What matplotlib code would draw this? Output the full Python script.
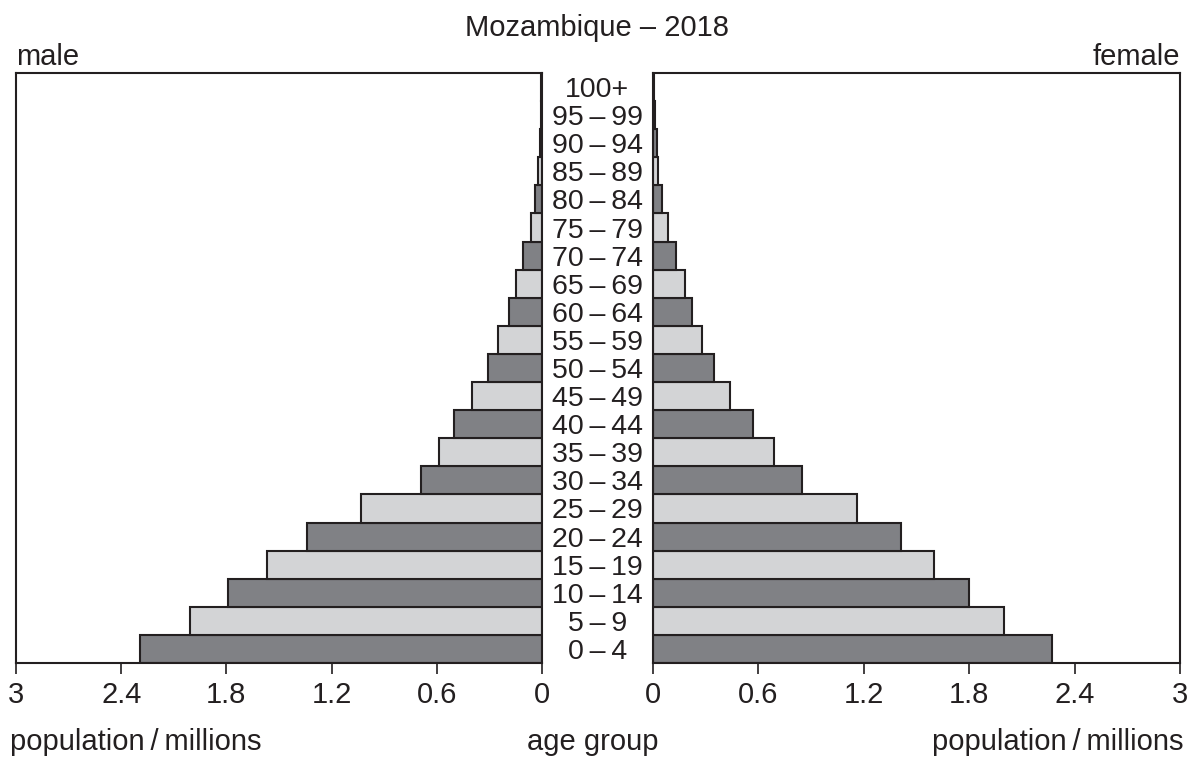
import matplotlib.pyplot as plt
import numpy as np

plt.rcParams['font.family'] = ['Liberation Sans', 'DejaVu Sans']

# population in millions, youngest group first
age_groups = ['0\u2009\u2013\u20094', '5\u2009\u2013\u20099', '10\u2009\u2013\u200914', '15\u2009\u2013\u200919',
              '20\u2009\u2013\u200924', '25\u2009\u2013\u200929', '30\u2009\u2013\u200934', '35\u2009\u2013\u200939',
              '40\u2009\u2013\u200944', '45\u2009\u2013\u200949', '50\u2009\u2013\u200954', '55\u2009\u2013\u200959',
              '60\u2009\u2013\u200964', '65\u2009\u2013\u200969', '70\u2009\u2013\u200974', '75\u2009\u2013\u200979',
              '80\u2009\u2013\u200984', '85\u2009\u2013\u200989', '90\u2009\u2013\u200994', '95\u2009\u2013\u200999',
              '100+']
male = [2.29, 2.01, 1.79, 1.57, 1.34, 1.03, 0.69, 0.59, 0.50, 0.40, 0.31,
        0.25, 0.19, 0.15, 0.11, 0.063, 0.04, 0.023, 0.011, 0.006, 0.003]
female = [2.27, 2.00, 1.80, 1.60, 1.41, 1.16, 0.85, 0.69, 0.57, 0.44, 0.35,
          0.28, 0.22, 0.18, 0.13, 0.085, 0.05, 0.028, 0.02, 0.012, 0.008]
ticks = [0, 0.6, 1.2, 1.8, 2.4, 3]
tick_labels = ['0', '0.6', '1.2', '1.8', '2.4', '3']

dark = '#808185'
light = '#d3d4d6'
ink = '#231f20'
colors = [dark if i % 2 == 0 else light for i in range(len(age_groups))]
y = np.arange(len(age_groups))
fs = 21

fig = plt.figure(figsize=(11.95, 7.6), dpi=100)
ax_l = fig.add_axes([16 / 1195, 1 - 663 / 760, 526 / 1195, 590 / 760])
ax_r = fig.add_axes([653 / 1195, 1 - 663 / 760, 527 / 1195, 590 / 760])

ax_l.barh(y, male, height=1.0, color=colors, edgecolor=ink, linewidth=1.5)
ax_r.barh(y, female, height=1.0, color=colors, edgecolor=ink, linewidth=1.5)

for ax in (ax_l, ax_r):
    ax.set_xlim(0, 3)
    ax.set_ylim(-0.5, len(age_groups) - 0.5)
    ax.set_yticks([])
    ax.set_xticks(ticks)
    ax.set_xticklabels(tick_labels, fontsize=fs, color=ink)
    ax.tick_params(axis='x', direction='out', length=8, width=1.2, pad=5, colors=ink)
    for s in ax.spines.values():
        s.set_linewidth(1.5)
        s.set_color(ink)
ax_l.invert_xaxis()

# age labels in the gap between the two halves
for i, lab in enumerate(age_groups):
    ax_l.text(-0.315, i, lab, ha='center', va='center_baseline', fontsize=20.5, color=ink, clip_on=False)

fig.text(597 / 1195, 1 - 28 / 760, 'Mozambique \u2013 2018', ha='center', va='center', fontsize=fs, color=ink)
fig.text(16 / 1195, 1 - 57 / 760, 'male', ha='left', va='center', fontsize=fs, color=ink)
fig.text(1180 / 1195, 1 - 57 / 760, 'female', ha='right', va='center', fontsize=fs, color=ink)
fig.text(10 / 1195, 1 - 742 / 760, 'population\u2009/\u2009millions', ha='left', va='center', fontsize=fs, color=ink)
fig.text(1183 / 1195, 1 - 742 / 760, 'population\u2009/\u2009millions', ha='right', va='center', fontsize=fs, color=ink)
fig.text(593 / 1195, 1 - 742 / 760, 'age group', ha='center', va='center', fontsize=fs, color=ink)

fig.savefig('out.png', dpi=100)
